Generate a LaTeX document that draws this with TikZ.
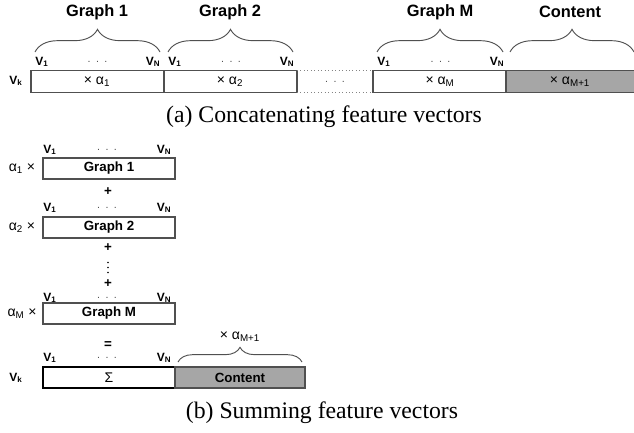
\documentclass[tikz,border=0pt]{standalone}
\usepackage{fontspec}
\setmainfont{Liberation Sans}
\newfontfamily\capfont{Liberation Serif}
\usetikzlibrary{decorations.pathreplacing}
\definecolor{edgegray}{RGB}{80,80,80}
\definecolor{contentgray}{RGB}{166,166,166}
\tikzset{
  vec/.style={draw=edgegray, line width=0.8pt},
  lab/.style={font=\fontsize{9}{10}\selectfont\bfseries, inner sep=0pt},
  dotlab/.style={font=\fontsize{8}{9}\selectfont, text=edgegray, inner sep=0pt},
  boxtxt/.style={font=\fontsize{10.5}{11}\selectfont, inner sep=0pt},
  gtitle/.style={font=\fontsize{12.3}{13}\selectfont\bfseries, inner sep=0pt},
  gin/.style={font=\fontsize{10}{11}\selectfont\bfseries, inner sep=0pt},
  op/.style={font=\fontsize{10}{11}\selectfont\bfseries, inner sep=0pt},
  capt/.style={font=\capfont\fontsize{17.8}{19}\selectfont, inner sep=0pt},
  brc/.style={draw=edgegray, line width=0.7pt, decorate, decoration={brace, amplitude=17pt}},
  dots/.style={draw=edgegray!70, line width=0.6pt, dotted},
}
\newcommand{\vlabels}[4]{%
  \node[lab] (#1a) at (#2,#4) {V\textsubscript{1}};
  \node[dotlab] (#1b) at ({(#2+#3)/2},#4) {.\hspace{4pt}.\hspace{4pt}.};
  \node[lab] (#1c) at (#3,#4) {V\textsubscript{N}};
}
\begin{document}
\begin{tikzpicture}[x=0.75pt,y=-0.75pt]
\useasboundingbox (0,0) rectangle (634,432);
% ===== (a) =====
\node[lab] (vka) at (16,81) {V\textsubscript{k}};
\draw[vec] (31,70.5) rectangle (164,92.5);
\node[boxtxt] (a1) at (97,81.5) {× α\textsubscript{1}};
\draw[vec] (164,70.5) rectangle (297,92.5);
\node[boxtxt] (a2) at (230,81.5) {× α\textsubscript{2}};
\draw[dots] (297,70.5) -- (373,70.5);
\draw[dots] (297,92.5) -- (373,92.5);
\node[dotlab] (mid) at (335,81.5) {.\hspace{4pt}.\hspace{4pt}.};
\draw[vec] (373,70.5) rectangle (506,92.5);
\node[boxtxt] (am) at (440,81.5) {× α\textsubscript{M}};
\draw[vec, fill=contentgray] (506,70.5) rectangle (636,92.5);
\node[boxtxt] (amp) at (570,81.5) {× α\textsubscript{M+1}};
\vlabels{ta}{42}{153}{62}
\vlabels{tb}{175}{287}{62}
\vlabels{tm}{384}{497}{62}
\draw[brc] (35,52) -- (160,52);
\draw[brc] (168,52) -- (293,52);
\draw[brc] (377,52) -- (503,52);
\draw[brc] (510,52) -- (634,52);
\node[gtitle] (g1) at (97,12) {Graph 1};
\node[gtitle] (g2) at (230,12) {Graph 2};
\node[gtitle] (gm) at (440,12) {Graph M};
\node[gtitle] (gc) at (570,12) {Content};
\node[capt] (capa) at (324,117) {(a) Concatenating feature vectors};
% ===== (b) =====
\draw[vec] (43,158) rectangle (175,179);
\node[gin] (b1) at (109,168.5) {Graph 1};
\node[boxtxt] (al1) at (22,168.5) {α\textsubscript{1} ×};
\vlabels{ba}{50}{164}{150}
\node[op] (p1) at (108,192) {+};
\vlabels{bb}{50}{164}{208}
\draw[vec] (43,217) rectangle (175,238);
\node[gin] (b2) at (109,227.5) {Graph 2};
\node[boxtxt] (al2) at (22,227.5) {α\textsubscript{2} ×};
\node[op] (p2) at (108,248) {+};
\foreach \yy in {262.5,267.5,272.5} \fill[black] (108,\yy) circle (0.9);
\node[op] (p3) at (108,284) {+};
\vlabels{bm}{50}{164}{298}
\draw[vec] (43,303) rectangle (175,324);
\node[gin] (bm) at (109,313.5) {Graph M};
\node[boxtxt] (alm) at (22,313.5) {α\textsubscript{M} ×};
\node[op] (eq) at (108,345) {=};
\vlabels{bs}{50}{164}{358}
\node[lab] (vkb) at (16,378) {V\textsubscript{k}};
\draw[draw=black, line width=1.2pt] (43,367) rectangle (175,388);
\node[boxtxt] (sig) at (109,377.5) {Σ};
\draw[vec, fill=contentgray] (175,367) rectangle (305,388);
\node[gin] (cb) at (240,377.5) {Content};
\draw[brc, decoration={brace, amplitude=11pt}] (178,362) -- (302,362);
\node[boxtxt] (amb) at (240,337) {× α\textsubscript{M+1}};
\node[capt] (capb) at (322,413) {(b) Summing feature vectors};
\end{tikzpicture}
\end{document}
